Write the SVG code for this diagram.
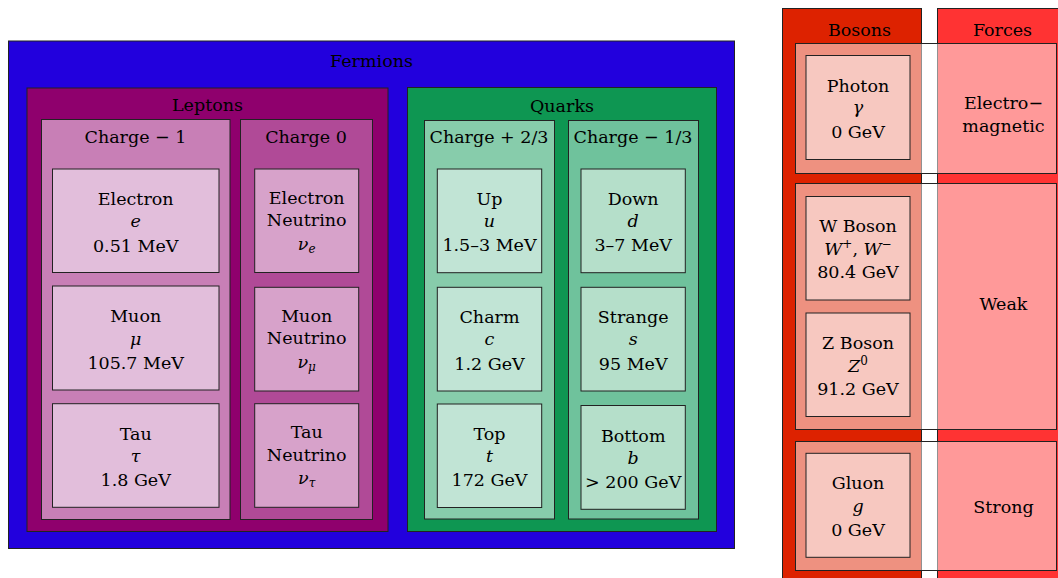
<svg xmlns="http://www.w3.org/2000/svg" width="1058" height="578" viewBox="0 0 1058 578">
<style>
rect{stroke:#222;stroke-width:1}
text{font-family:"DejaVu Serif",serif;font-size:17.5px;fill:#000;text-anchor:middle}
.m{font-style:italic}
.sub{font-size:12px;font-style:italic}
.sup{font-size:12px}
.fer{fill:#2200dd}
.lep{fill:#8f006d}
.cm1{fill:#c87fb6}
.c0{fill:#b04a97}
.ln{fill:#e2bedb}
.nn{fill:#d7a2ca}
.qua{fill:#0e9652}
.cp23{fill:#87ccab}
.cm13{fill:#6fc29c}
.un{fill:#c1e4d5}
.dn{fill:#b5dfca}
.bos{fill:#dd2200}
.for{fill:#ff3333}
.row{fill:#fff;fill-opacity:.5}
.bn{fill:#fff;fill-opacity:.5}
</style>
<g id="fermions">
<rect class="fer" x="8.5" y="41" width="726" height="507.5"/>
<text x="371.5" y="66.5">Fermions</text>
</g>
<g id="leptons">
<rect class="lep" x="27" y="88" width="361" height="443.5"/>
<text x="207.5" y="111">Leptons</text>
</g>
<g id="charge-minus1">
<rect class="cm1" x="41.5" y="119.5" width="188.5" height="400"/>
<text x="135.5" y="143.3">Charge − 1</text>
</g>
<g id="charge-0">
<rect class="c0" x="240.5" y="119.5" width="132" height="400"/>
<text x="306" y="143.3">Charge 0</text>
</g>
<g id="electron">
<rect class="ln" x="52.5" y="169" width="166.5" height="103.5"/>
<text x="135.7" y="205">Electron</text>
<text x="135.7" y="227.3" class="m">e</text>
<text x="135.7" y="251.5">0.51 MeV</text>
</g>
<g id="muon">
<rect class="ln" x="52.5" y="286" width="166.5" height="104"/>
<text x="135.7" y="322.3">Muon</text>
<text x="135.7" y="344.5" class="m">μ</text>
<text x="135.7" y="369.3">105.7 MeV</text>
</g>
<g id="tau">
<rect class="ln" x="52.5" y="403.7" width="166.5" height="103.6"/>
<text x="135.7" y="439.5">Tau</text>
<text x="135.7" y="462" class="m">τ</text>
<text x="135.7" y="486">1.8 GeV</text>
</g>
<g id="electron-neutrino">
<rect class="nn" x="254.7" y="169" width="104" height="103.5"/>
<text x="306.7" y="203.5">Electron</text>
<text x="306.7" y="226">Neutrino</text>
<text x="306.7" y="249.5"><tspan class="m">ν</tspan><tspan class="sub" dy="3">e</tspan></text>
</g>
<g id="muon-neutrino">
<rect class="nn" x="254.7" y="287.3" width="104" height="103.7"/>
<text x="306.7" y="321.8">Muon</text>
<text x="306.7" y="344.3">Neutrino</text>
<text x="306.7" y="367.8"><tspan class="m">ν</tspan><tspan class="sub" dy="3">μ</tspan></text>
</g>
<g id="tau-neutrino">
<rect class="nn" x="254.7" y="403.7" width="104" height="103.6"/>
<text x="306.7" y="438.2">Tau</text>
<text x="306.7" y="460.7">Neutrino</text>
<text x="306.7" y="484.2"><tspan class="m">ν</tspan><tspan class="sub" dy="3">τ</tspan></text>
</g>
<g id="quarks">
<rect class="qua" x="407.5" y="87.5" width="309" height="444"/>
<text x="562" y="111.7">Quarks</text>
</g>
<g id="charge-plus23">
<rect class="cp23" x="424.5" y="120.5" width="130" height="398.5"/>
<text x="489" y="142.5">Charge + 2/3</text>
</g>
<g id="charge-minus13">
<rect class="cm13" x="568.5" y="120.5" width="130" height="398.5"/>
<text x="633" y="142.5">Charge − 1/3</text>
</g>
<g id="up">
<rect class="un" x="437.3" y="169" width="104.4" height="103.7"/>
<text x="489.5" y="205">Up</text>
<text x="489.5" y="226.5" class="m">u</text>
<text x="489.5" y="251">1.5–3 MeV</text>
</g>
<g id="charm">
<rect class="un" x="437.3" y="287.3" width="104.4" height="103.7"/>
<text x="489.5" y="323">Charm</text>
<text x="489.5" y="345" class="m">c</text>
<text x="489.5" y="369.5">1.2 GeV</text>
</g>
<g id="top">
<rect class="un" x="437.3" y="404" width="104.4" height="103.5"/>
<text x="489.5" y="440">Top</text>
<text x="489.5" y="462" class="m">t</text>
<text x="489.5" y="486">172 GeV</text>
</g>
<g id="down">
<rect class="dn" x="581" y="169" width="104.3" height="103.7"/>
<text x="633.2" y="205">Down</text>
<text x="633.2" y="226.5" class="m">d</text>
<text x="633.2" y="251">3–7 MeV</text>
</g>
<g id="strange">
<rect class="dn" x="581" y="287.3" width="104.3" height="103.7"/>
<text x="633.2" y="323">Strange</text>
<text x="633.2" y="345" class="m">s</text>
<text x="633.2" y="369.5">95 MeV</text>
</g>
<g id="bottom">
<rect class="dn" x="581" y="405.5" width="104.3" height="103.8"/>
<text x="633.2" y="441.5">Bottom</text>
<text x="633.2" y="463.5" class="m">b</text>
<text x="633.2" y="487.5">&gt; 200 GeV</text>
</g>
<g id="bosons">
<rect class="bos" x="782.5" y="8.5" width="139" height="580"/>
<text x="859.5" y="36">Bosons</text>
</g>
<g id="forces">
<rect class="for" x="937.5" y="8.5" width="140" height="580"/>
<text x="1002.5" y="36">Forces</text>
</g>
<g id="electromagnetic">
<rect class="row" x="795.5" y="43.5" width="261" height="130"/>
<text x="1003.5" y="109">Electro−</text>
<text x="1003.5" y="131.5">magnetic</text>
</g>
<g id="weak">
<rect class="row" x="795.5" y="183.5" width="261" height="246"/>
<text x="1003.5" y="310">Weak</text>
</g>
<g id="strong">
<rect class="row" x="795.5" y="441.5" width="261" height="129"/>
<text x="1003.5" y="513">Strong</text>
</g>
<g id="photon">
<rect class="bn" x="806" y="55.5" width="104" height="104"/>
<text x="858" y="91.7">Photon</text>
<text x="858" y="113" class="m">γ</text>
<text x="858" y="138.3">0 GeV</text>
</g>
<g id="w-boson">
<rect class="bn" x="806" y="196.5" width="104" height="103.5"/>
<text x="858" y="231.7">W Boson</text>
<text x="858" y="255"><tspan class="m">W</tspan><tspan class="sup" dy="-7">+</tspan><tspan dy="7">, </tspan><tspan class="m">W</tspan><tspan class="sup" dy="-7">−</tspan></text>
<text x="858" y="278.3">80.4 GeV</text>
</g>
<g id="z-boson">
<rect class="bn" x="806" y="313" width="104" height="103.5"/>
<text x="858" y="348.5">Z Boson</text>
<text x="858" y="371.5"><tspan class="m">Z</tspan><tspan class="sup" dy="-7">0</tspan></text>
<text x="858" y="395">91.2 GeV</text>
</g>
<g id="gluon">
<rect class="bn" x="806" y="453.3" width="104" height="104"/>
<text x="858" y="489">Gluon</text>
<text x="858" y="511.5" class="m">g</text>
<text x="858" y="536">0 GeV</text>
</g>
<g id="connectors"/>
</svg>
